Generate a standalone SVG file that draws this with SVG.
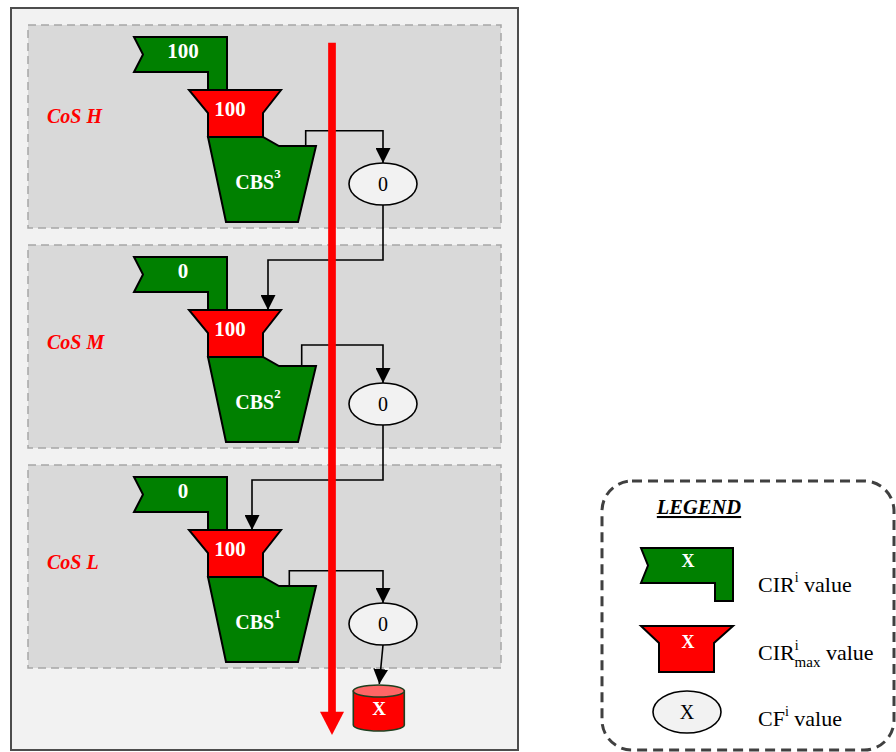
<svg xmlns="http://www.w3.org/2000/svg" width="896" height="752" viewBox="0 0 896 752">
<defs>
<style>
.frame{fill:#f2f2f2;stroke:#4d4d4d;stroke-width:2}
.panel{fill:#d9d9d9;stroke:#a6a6a6;stroke-width:1.5;stroke-dasharray:8,5}
.cir{fill:#008000;stroke:#000;stroke-width:2;stroke-linejoin:miter}
.max{fill:#ff0000;stroke:#000;stroke-width:2;stroke-linejoin:miter}
.cbs{fill:#008000;stroke:#000;stroke-width:2;stroke-linejoin:miter}
.cf{fill:#f2f2f2;stroke:#000;stroke-width:1.6}
.conn{fill:none;stroke:#000;stroke-width:1.6}
.wb{font-family:"Liberation Serif",serif;font-weight:bold;fill:#fff;text-anchor:middle}
.num{font-size:21px}
.cbst{font-size:20px}
.cos{font-family:"Liberation Serif",serif;font-weight:bold;font-style:italic;fill:#ff0000;font-size:20px}
.reg{font-family:"Liberation Serif",serif;fill:#000}
.leg{font-family:"Liberation Serif",serif;fill:#000;font-size:22px}
</style>
<marker id="arr" viewBox="0 0 10 10" refX="10" refY="5" markerWidth="15" markerHeight="15" markerUnits="userSpaceOnUse" orient="auto">
<path d="M0,0 L10,5 L0,10 Z" fill="#000"/>
</marker>
</defs>

<rect class="frame" x="11" y="8" width="507" height="742"/>

<g id="panel-H">
<rect class="panel" x="28" y="25" width="473" height="203"/>
<text class="cos" x="47" y="123">CoS H</text>
</g>
<g id="panel-M">
<rect class="panel" x="28" y="245" width="473" height="203"/>
<text class="cos" x="47" y="349">CoS M</text>
</g>
<g id="panel-L">
<rect class="panel" x="28" y="465" width="473" height="203"/>
<text class="cos" x="47" y="569">CoS L</text>
</g>

<!-- CoS H -->
<g id="cir-H">
<polygon class="cir" points="134,37 227,37 227,90 208,90 208,72 134,72 143,54.5"/>
<text class="wb num" x="183" y="58">100</text>
</g>
<g id="max-H">
<polygon class="max" points="189,90 281,90 263,113 263,137 208,137 208,113"/>
<text class="wb num" x="230" y="116">100</text>
</g>
<g id="cbs-H">
<polygon class="cbs" points="208,137 263,137 279,146 316,146 298,222 226,222"/>
<text class="wb cbst" x="258" y="189">CBS<tspan font-size="13" dy="-11">3</tspan></text>
</g>
<g id="cf-H">
<ellipse class="cf" cx="383" cy="184" rx="34" ry="21"/>
<text class="reg" x="383" y="191" font-size="20" text-anchor="middle">0</text>
</g>

<!-- CoS M -->
<g id="cir-M">
<polygon class="cir" points="134,257 227,257 227,310 208,310 208,292 134,292 143,274.5"/>
<text class="wb num" x="183" y="278">0</text>
</g>
<g id="max-M">
<polygon class="max" points="189,310 281,310 263,333 263,357 208,357 208,333"/>
<text class="wb num" x="230" y="336">100</text>
</g>
<g id="cbs-M">
<polygon class="cbs" points="208,357 263,357 279,366 316,366 298,442 226,442"/>
<text class="wb cbst" x="258" y="409">CBS<tspan font-size="13" dy="-11">2</tspan></text>
</g>
<g id="cf-M">
<ellipse class="cf" cx="383" cy="404" rx="34" ry="21"/>
<text class="reg" x="383" y="411" font-size="20" text-anchor="middle">0</text>
</g>

<!-- CoS L -->
<g id="cir-L">
<polygon class="cir" points="134,477 227,477 227,530 208,530 208,512 134,512 143,494.5"/>
<text class="wb num" x="183" y="498">0</text>
</g>
<g id="max-L">
<polygon class="max" points="189,530 281,530 263,553 263,577 208,577 208,553"/>
<text class="wb num" x="230" y="556">100</text>
</g>
<g id="cbs-L">
<polygon class="cbs" points="208,577 263,577 279,586 316,586 298,662 226,662"/>
<text class="wb cbst" x="258" y="629">CBS<tspan font-size="13" dy="-11">1</tspan></text>
</g>
<g id="cf-L">
<ellipse class="cf" cx="383" cy="624" rx="34" ry="21"/>
<text class="reg" x="383" y="631" font-size="20" text-anchor="middle">0</text>
</g>

<g id="drop">
<path d="M353.3,691 V725 A25.5,6 0 0 0 404.3,725 V691 Z" fill="#ff0000" stroke="#1f3f1f" stroke-width="1.6"/>
<ellipse cx="378.8" cy="691" rx="25.5" ry="6" fill="#ff6666" stroke="#1f3f1f" stroke-width="1.6"/>
<text class="wb" x="379" y="715" font-size="19">X</text>
</g>

<g id="connectors">
<path class="conn" d="M305.7,146 V130.7 H383 V163" marker-end="url(#arr)"/>
<path class="conn" d="M383,205 V260 H268 V310" marker-end="url(#arr)"/>
<path class="conn" d="M301.7,366 V345 H383 V383" marker-end="url(#arr)"/>
<path class="conn" d="M383,425 V480 H252 V530" marker-end="url(#arr)"/>
<path class="conn" d="M289.3,586 V570.7 H383 V603" marker-end="url(#arr)"/>
<path class="conn" d="M383,645 L379.3,684" marker-end="url(#arr)"/>
</g>

<g id="order-arrow">
<line x1="332" y1="42.7" x2="332" y2="713" stroke="#ff0000" stroke-width="7.7"/>
<polygon points="320,711.7 344,711.7 332,735" fill="#ff0000"/>
</g>

<g id="legend">
<rect x="602" y="481" width="292" height="269" rx="30" ry="30" fill="none" stroke="#404040" stroke-width="3" stroke-dasharray="10,6"/>
<text x="699" y="514" font-family="Liberation Serif, serif" font-weight="bold" font-style="italic" font-size="20.5" text-anchor="middle" text-decoration="underline" fill="#000">LEGEND</text>
<g id="legend-cir">
<polygon class="cir" points="641,548 733,548 733,601 715,601 715,583 641,583 648,565.5"/>
<text class="wb" x="688" y="567" font-size="18">X</text>
<text class="leg" x="758" y="592">CIR<tspan font-size="14" dy="-10">i</tspan><tspan dy="10"> value</tspan></text>
</g>
<g id="legend-max">
<polygon class="max" points="641,626 733,626 714,643 714,672 659,672 659,643"/>
<text class="wb" x="688" y="648" font-size="18">X</text>
<text class="leg" x="758" y="660">CIR<tspan font-size="14" dy="-10">i</tspan><tspan font-size="15" dx="-4" dy="17">max</tspan><tspan dy="-7"> value</tspan></text>
</g>
<g id="legend-cf">
<ellipse class="cf" cx="687" cy="712" rx="34" ry="21"/>
<text class="reg" x="687" y="719" font-size="20" text-anchor="middle">X</text>
<text class="leg" x="758" y="726">CF<tspan font-size="14" dy="-10">i</tspan><tspan dy="10"> value</tspan></text>
</g>
</g>
</svg>
